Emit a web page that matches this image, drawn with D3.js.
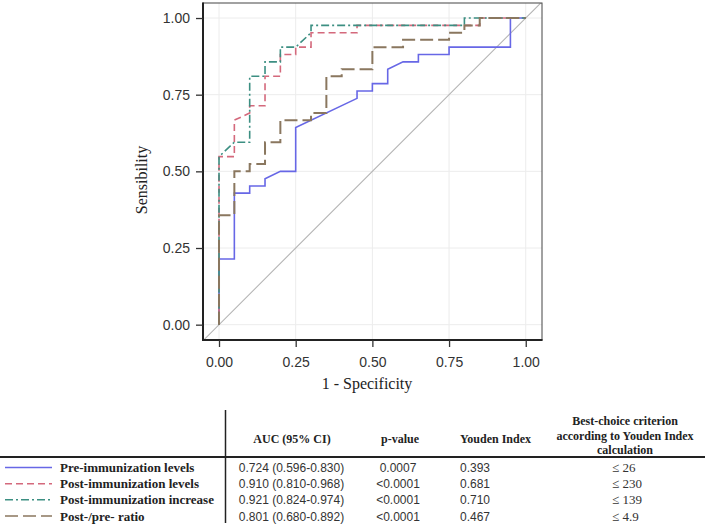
<!DOCTYPE html>
<html><head><meta charset="utf-8">
<script src="https://cdn.jsdelivr.net/npm/d3@7"></script>
<style>body{margin:0;background:#fff}</style>
</head><body><svg id="c" width="708" height="526"></svg>
<script>
// ---------- data ----------
const seriesNames = ["Pre-immunization levels", "Post-immunization levels", "Post-immunization increase", "Post-/pre- ratio"];
const preFpr  = [0,0,0.05,0.05,0.10,0.10,0.15,0.15,0.20,0.25,0.25,0.45,0.45,0.50,0.50,0.55,0.55,0.60,0.65,0.65,0.75,0.75,0.95,0.95,1.00];
const preTpr  = [0,0.214,0.214,0.429,0.429,0.452,0.452,0.476,0.500,0.500,0.643,0.738,0.762,0.762,0.786,0.786,0.833,0.857,0.857,0.881,0.881,0.905,0.905,1.000,1.000];
const postFpr = [0,0,0.05,0.05,0.10,0.10,0.15,0.15,0.20,0.20,0.25,0.25,0.30,0.30,0.45,0.45,0.85,0.85,1.00];
const postTpr = [0,0.548,0.548,0.667,0.690,0.714,0.714,0.810,0.810,0.881,0.881,0.905,0.905,0.952,0.952,0.976,0.976,1.000,1.000];
const incFpr  = [0,0,0.05,0.10,0.10,0.15,0.15,0.20,0.20,0.25,0.30,0.30,0.80,0.80,1.00];
const incTpr  = [0,0.548,0.595,0.595,0.810,0.810,0.857,0.857,0.905,0.905,0.952,0.976,0.976,1.000,1.000];
const ratFpr  = [0,0,0.05,0.05,0.10,0.10,0.15,0.15,0.20,0.20,0.30,0.30,0.35,0.35,0.40,0.40,0.50,0.50,0.60,0.60,0.75,0.75,0.80,0.80,0.85,0.85,1.00];
const ratTpr  = [0,0.357,0.357,0.500,0.500,0.524,0.524,0.595,0.595,0.667,0.667,0.690,0.690,0.810,0.810,0.833,0.833,0.905,0.905,0.929,0.929,0.952,0.952,0.976,0.976,1.000,1.000];
const xTicks = [0, 0.25, 0.5, 0.75, 1];
const yTicks = [0, 0.25, 0.5, 0.75, 1];
const xTitle = "1 - Specificity";
const yTitle = "Sensibility";
const colHeaders = ["AUC (95% CI)", "p-value", "Youden Index"];
const critHeader = ["Best-choice criterion", "according to Youden Index", "calculation"];
const aucValues = ["0.724 (0.596-0.830)", "0.910 (0.810-0.968)", "0.921 (0.824-0.974)", "0.801 (0.680-0.892)"];
const pValues = ["0.0007", "<0.0001", "<0.0001", "<0.0001"];
const youdenValues = ["0.393", "0.681", "0.710", "0.467"];
const criterionValues = ["\u2264 26", "\u2264 230", "\u2264 139", "\u2264 4.9"];

// ---------- styles ----------
const styles = [
  {color:"#6767e6", dash:null, w:1.6},
  {color:"#d4697c", dash:"7,4", w:1.6},
  {color:"#3c8f82", dash:"8,3,2,3", w:1.6},
  {color:"#8a775f", dash:"13,5", w:2}
];
const series = [[preFpr,preTpr],[postFpr,postTpr],[incFpr,incTpr],[ratFpr,ratTpr]];

const svg = d3.select("#c");
const L=203, R=542, T=3, B=340;
const x = d3.scaleLinear().domain([-0.0522, 1.053]).range([L, R]);
const y = d3.scaleLinear().domain([-0.05, 1.049]).range([B, T]);

svg.append("defs").append("clipPath").attr("id","clip")
  .append("rect").attr("x",L).attr("y",T).attr("width",R-L).attr("height",B-T);

// grid
const g = svg.append("g");
g.selectAll("line.gx").data(xTicks).join("line")
  .attr("x1",d=>x(d)).attr("x2",d=>x(d)).attr("y1",T).attr("y2",B)
  .attr("stroke","#ececec").attr("stroke-width",1);
g.selectAll("line.gy").data(yTicks).join("line")
  .attr("y1",d=>y(d)).attr("y2",d=>y(d)).attr("x1",L).attr("x2",R)
  .attr("stroke","#ececec").attr("stroke-width",1);

// diagonal
svg.append("line").attr("clip-path","url(#clip)")
  .attr("x1",x(-0.06)).attr("y1",y(-0.06)).attr("x2",x(1.06)).attr("y2",y(1.06))
  .attr("stroke","#b4b4b4").attr("stroke-width",1.1);

// curves
const line = d3.line().x(d=>x(d[0])).y(d=>y(d[1]));
series.forEach((s,i)=>{
  const pts = s[0].map((v,k)=>[v,s[1][k]]);
  svg.append("path").datum(pts).attr("d",line)
    .attr("fill","none").attr("stroke",styles[i].color).attr("stroke-width",styles[i].w)
    .attr("stroke-dasharray",styles[i].dash);
});

// frame
svg.append("rect").attr("x",L).attr("y",T).attr("width",R-L).attr("height",B-T)
  .attr("fill","none").attr("stroke","#444").attr("stroke-width",1);
svg.append("line").attr("x1",L).attr("x2",L).attr("y1",T-0.5).attr("y2",B+1).attr("stroke","#222").attr("stroke-width",2);
svg.append("line").attr("x1",L-1).attr("x2",R+0.5).attr("y1",B).attr("y2",B).attr("stroke","#222").attr("stroke-width",2);

// axes
const fmt = d3.format(".2f");
const ax = svg.append("g").attr("transform",`translate(0,${B})`)
  .call(d3.axisBottom(x).tickValues(xTicks).tickFormat(fmt).tickSize(7).tickPadding(10));
const ay = svg.append("g").attr("transform",`translate(${L},0)`)
  .call(d3.axisLeft(y).tickValues(yTicks).tickFormat(fmt).tickSize(7).tickPadding(6));
[ax,ay].forEach(a=>{
  a.select(".domain").remove();
  a.selectAll(".tick line").attr("stroke","#333").attr("stroke-width",1.3);
  a.selectAll(".tick text").attr("font-family","Liberation Sans, Arial, sans-serif")
    .attr("font-size",14).attr("fill","#333");
});

svg.append("text").attr("x",367).attr("y",389).attr("text-anchor","middle")
  .attr("font-family","Liberation Serif, Times New Roman, serif").attr("font-size",16).attr("fill","#222")
  .text(xTitle);
svg.append("text").attr("transform","translate(147,180) rotate(-90)").attr("text-anchor","middle")
  .attr("font-family","Liberation Serif, Times New Roman, serif").attr("font-size",16).attr("fill","#222")
  .text(yTitle);

// ---------- table ----------
const serif = "Liberation Serif, Times New Roman, serif";
const sans = "Liberation Sans, Arial, sans-serif";
svg.append("line").attr("x1",225.5).attr("x2",225.5).attr("y1",410).attr("y2",523).attr("stroke","#222").attr("stroke-width",1.5);
svg.append("line").attr("x1",0).attr("x2",705).attr("y1",457).attr("y2",457).attr("stroke","#222").attr("stroke-width",1.8);

const headX = [292, 400, 495.5];
colHeaders.forEach((h,i)=>{
  svg.append("text").attr("x",headX[i]).attr("y",443).attr("text-anchor","middle")
    .attr("font-family",serif).attr("font-weight","bold").attr("font-size",12).attr("fill","#222").text(h);
});
const critY = [425, 439.5, 454];
critHeader.forEach((h,i)=>{
  svg.append("text").attr("x",625).attr("y",critY[i]).attr("text-anchor","middle")
    .attr("font-family",serif).attr("font-weight","bold").attr("font-size",12).attr("fill","#222").text(h);
});

const rowY = d3.scalePoint().domain(d3.range(seriesNames.length)).range([467.5, 516]);
seriesNames.forEach((n,i)=>{
  const cy = rowY(i);
  svg.append("line").attr("x1",5).attr("x2",52).attr("y1",cy).attr("y2",cy)
    .attr("stroke",styles[i].color).attr("stroke-width",1.5).attr("stroke-dasharray",styles[i].dash);
  svg.append("text").attr("x",60).attr("y",cy+4.5).attr("font-family",serif).attr("font-weight","bold")
    .attr("font-size",13).attr("fill","#222").text(n);
  svg.append("text").attr("x",291.5).attr("y",cy+4.5).attr("text-anchor","middle").attr("font-family",sans)
    .attr("font-size",12).attr("fill","#333").text(aucValues[i]);
  svg.append("text").attr("x",398).attr("y",cy+4.5).attr("text-anchor","middle").attr("font-family",sans)
    .attr("font-size",12).attr("fill","#333").text(pValues[i]);
  svg.append("text").attr("x",475).attr("y",cy+4.5).attr("text-anchor","middle").attr("font-family",sans)
    .attr("font-size",12).attr("fill","#333").text(youdenValues[i]);
  svg.append("text").attr("x",612).attr("y",cy+4.5).attr("text-anchor","start").attr("font-family",serif)
    .attr("font-size",13).attr("fill","#333").text(criterionValues[i]);
});
</script></body></html>
